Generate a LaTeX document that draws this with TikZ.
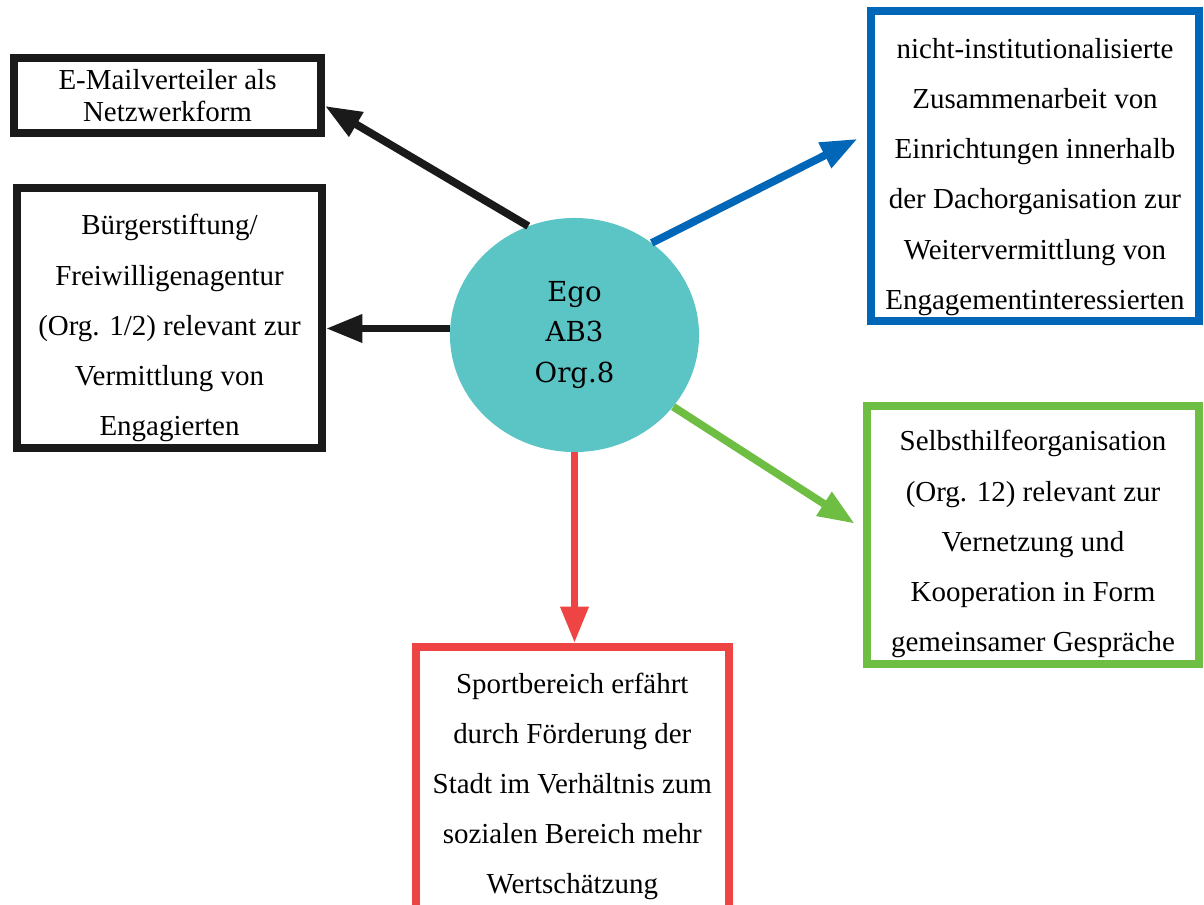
\documentclass[tikz,border=0pt]{standalone}
\usepackage{fontspec}
\setmainfont{Liberation Serif}
\newfontfamily\egofont{DejaVu Serif}
\usetikzlibrary{arrows.meta}
\usetikzlibrary{shapes.geometric}
\tikzset{>={Triangle[length=26pt,width=19pt]}}
\definecolor{egoteal}{HTML}{5BC5C6}
\definecolor{linkblack}{HTML}{1A1A1A}
\definecolor{linkblue}{HTML}{0066B8}
\definecolor{linkgreen}{HTML}{6EBE44}
\definecolor{linkred}{HTML}{EF4444}
\tikzset{
  box/.style={draw=#1, line width=5.5pt, rectangle, inner sep=0pt},
  boxtext/.style={align=center, font=\fontsize{20.6}{35.6}\selectfont},
  link/.style={->, draw=#1, line width=5.5pt},
}

\begin{document}
\begin{tikzpicture}[x=0.025cm, y=-0.025cm]
  \useasboundingbox (0,0) rectangle (1204,904);

  % 中心
  \node[ellipse, fill=egoteal, inner sep=0pt, minimum width=6.225cm, minimum height=5.85cm,
        align=center, font=\egofont\fontsize{19.6}{28.5}\selectfont] (ego) at (574.5,335) {Ego\\AB3\\Org.8};

  % 方框
  \node[box=linkblack, boxtext, font=\fontsize{20.6}{22.8}\selectfont,
        minimum width=7.675cm, minimum height=1.875cm] (mail) at (167.5,95.5)
        {E-Mailverteiler als\\Netzwerkform};
  \node[box=linkblack, minimum width=7.625cm, minimum height=6.5cm] (buerger) at (169.5,318) {};
  \node[box=linkblue, minimum width=8.2cm, minimum height=7.75cm] (dach) at (1035,166) {};
  \node[box=linkgreen, minimum width=8.3cm, minimum height=6.45cm] (selbsthilfe) at (1033,535) {};
  \node[box=linkred, minimum width=7.825cm, minimum height=6.975cm] (sport) at (572.3,786.5) {};

  % 文字
  \node[boxtext] (buerger-t) at ([yshift=-0.25cm]buerger.center)
        {Bürgerstiftung/\\Freiwilligenagentur\\(Org. 1/2) relevant zur\\Vermittlung von\\Engagierten};
  \node[boxtext] (dach-t) at ([yshift=-0.275cm]dach.center)
        {nicht-institutionalisierte\\Zusammenarbeit von\\Einrichtungen innerhalb\\der Dachorganisation zur\\Weitervermittlung von\\Engagementinteressierten};
  \node[boxtext] (selbsthilfe-t) at ([yshift=-0.225cm]selbsthilfe.center)
        {Selbsthilfeorganisation\\(Org. 12) relevant zur\\Vernetzung und\\Kooperation in Form\\gemeinsamer Gespräche};
  \node[boxtext] (sport-t) at (sport.center)
        {Sportbereich erfährt\\durch Förderung der\\Stadt im Verhältnis zum\\sozialen Bereich mehr\\Wertschätzung};

  % 箭头
  \draw[link=linkblack] (ego.113) -- ([yshift=-0.26cm]mail.east);
  \draw[link=linkblack] (ego.177) -- (ego.177 -| buerger.east);
  \draw[link=linkblue, shorten >=0.27cm] (ego.50) -- ([yshift=0.8cm]dach.west);
  \draw[link=linkgreen, shorten >=0.25cm] (ego.-36) -- ([yshift=0.15cm]selbsthilfe.west);
  \draw[link=linkred] (ego.south) -- (ego.south |- sport.north);
\end{tikzpicture}
\end{document}
